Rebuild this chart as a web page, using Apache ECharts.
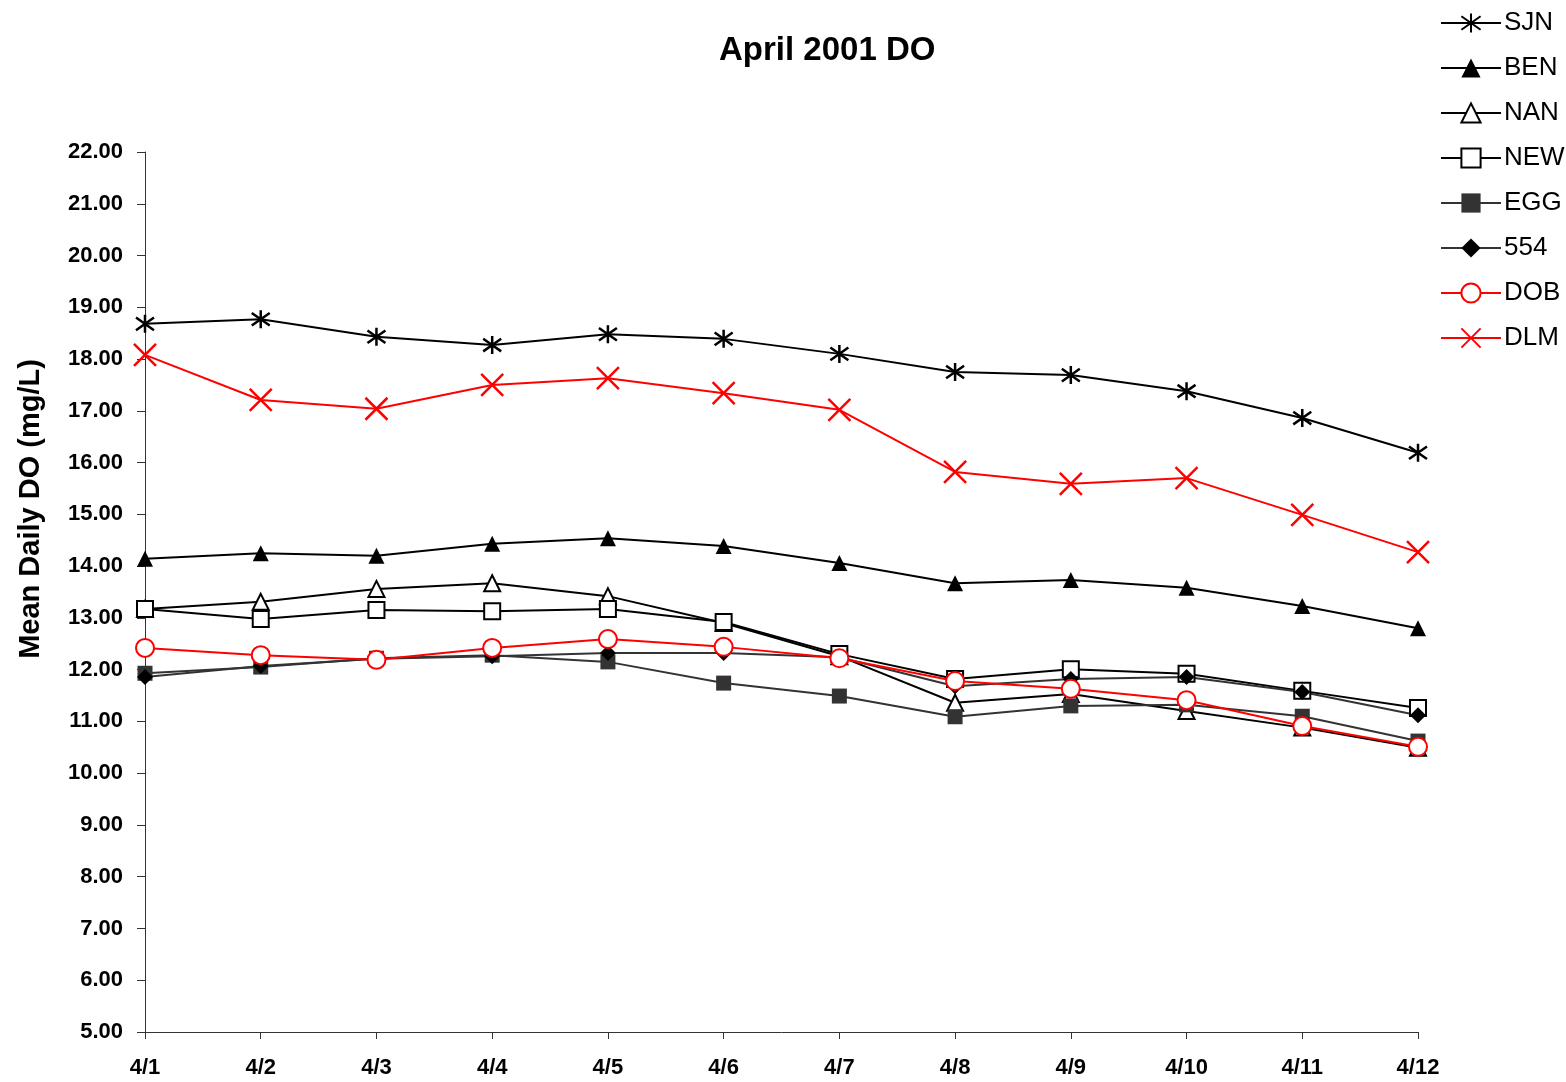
<!DOCTYPE html>
<html>
<head>
<meta charset="utf-8">
<script src="https://cdn.jsdelivr.net/npm/echarts@6/dist/echarts.min.js"></script>
<style>html,body{margin:0;padding:0;background:#fff;}#c{width:1566px;height:1082px;}</style>
</head>
<body>
<div id="c"></div>
<script>
const categories = ['4/1','4/2','4/3','4/4','4/5','4/6','4/7','4/8','4/9','4/10','4/11','4/12'];
const SJN = [18.68,18.77,18.43,18.27,18.48,18.39,18.10,17.75,17.69,17.38,16.86,16.19];
const BEN = [14.14,14.25,14.20,14.43,14.54,14.39,14.06,13.67,13.73,13.58,13.23,12.80];
const NAN = [13.17,13.31,13.56,13.67,13.42,12.90,12.26,11.36,11.53,11.20,10.88,10.49];
const NEW = [13.17,12.98,13.15,13.13,13.17,12.92,12.30,11.82,12.01,11.92,11.59,11.26];
const EGG = [11.93,12.05,12.22,12.28,12.15,11.74,11.49,11.09,11.30,11.32,11.10,10.62];
const S554 = [11.86,12.07,12.21,12.26,12.32,12.32,12.24,11.68,11.82,11.86,11.57,11.12];
const DOB = [12.42,12.28,12.19,12.42,12.59,12.44,12.22,11.78,11.63,11.41,10.91,10.51];
const DLM = [18.08,17.21,17.04,17.50,17.63,17.34,17.02,15.82,15.59,15.70,14.99,14.27];
const yTicks = {min: 5, max: 22, interval: 1};

const FONT = '"Liberation Sans", Arial, sans-serif';
const ASTER = 'path://M5,0L5,10M1,1.5L9,8.5M1,8.5L9,1.5';
const XMARK = 'path://M0,0L10,10M10,0L0,10';

function mk(name, data, color, symbol, size, itemStyle, lw) {
  return {
    name, type: 'line', data, symbol, symbolSize: size,
    showAllSymbol: true,
    lineStyle: {color, width: lw || 2},
    itemStyle: Object.assign({color}, itemStyle || {}),
    emphasis: {disabled: true},
    z: 2
  };
}

const chart = echarts.init(document.getElementById('c'));
chart.setOption({
  animation: false,
  backgroundColor: '#fff',
  title: {
    text: 'April 2001 DO', left: 714, top: 29,
    textStyle: {fontFamily: FONT, fontSize: 33, fontWeight: 'bold', color: '#000'}
  },
  legend: {
    orient: 'vertical', left: 1435, top: 5,
    itemWidth: 60, itemHeight: 24, itemGap: 19,
    textStyle: {fontFamily: FONT, fontSize: 26, color: '#000', padding: [0, 0, 0, -2]},
    data: ['SJN','BEN','NAN','NEW','EGG','554','DOB','DLM']
  },
  grid: {left: 145, right: 148, top: 152, bottom: 50, containLabel: false},
  xAxis: {
    type: 'category', data: categories, boundaryGap: false,
    axisLine: {lineStyle: {color: '#333', width: 1}},
    axisTick: {show: true, alignWithLabel: true, length: 7, lineStyle: {color: '#333'}},
    axisLabel: {fontFamily: FONT, fontSize: 22, fontWeight: 'bold', color: '#000', margin: 25, interval: 0},
    splitLine: {show: false}
  },
  yAxis: {
    type: 'value', min: yTicks.min, max: yTicks.max, interval: yTicks.interval,
    axisLine: {show: true, lineStyle: {color: '#333', width: 1}},
    axisTick: {show: true, length: 8, lineStyle: {color: '#333'}},
    axisLabel: {fontFamily: FONT, fontSize: 22, fontWeight: 'bold', color: '#000', margin: 22,
      formatter: v => v.toFixed(2)},
    splitLine: {show: false}
  },
  graphic: [{
    type: 'text', x: 31, y: 509, rotation: Math.PI / 2,
    style: {text: 'Mean Daily DO (mg/L)', fontFamily: FONT, fontSize: 29, fontWeight: 'bold',
      fill: '#000', align: 'center', verticalAlign: 'middle'}
  }],
  series: [
    mk('SJN', SJN, '#000', ASTER, 18, {borderColor: '#000', borderWidth: 2.5}),
    mk('BEN', BEN, '#000', 'triangle', 16),
    mk('NAN', NAN, '#000', 'triangle', 16, {color: '#fff', borderColor: '#000', borderWidth: 2}),
    mk('NEW', NEW, '#000', 'rect', 16, {color: '#fff', borderColor: '#000', borderWidth: 2}),
    mk('EGG', EGG, '#333', 'rect', 15),
    mk('554', S554, '#333', 'diamond', 16, {color: '#000'}),
    mk('DOB', DOB, '#ff0000', 'circle', 18, {color: '#fff', borderColor: '#ff0000', borderWidth: 2}),
    mk('DLM', DLM, '#ff0000', XMARK, 22, {borderColor: '#ff0000', borderWidth: 2.5})
  ]
});
</script>
</body>
</html>
